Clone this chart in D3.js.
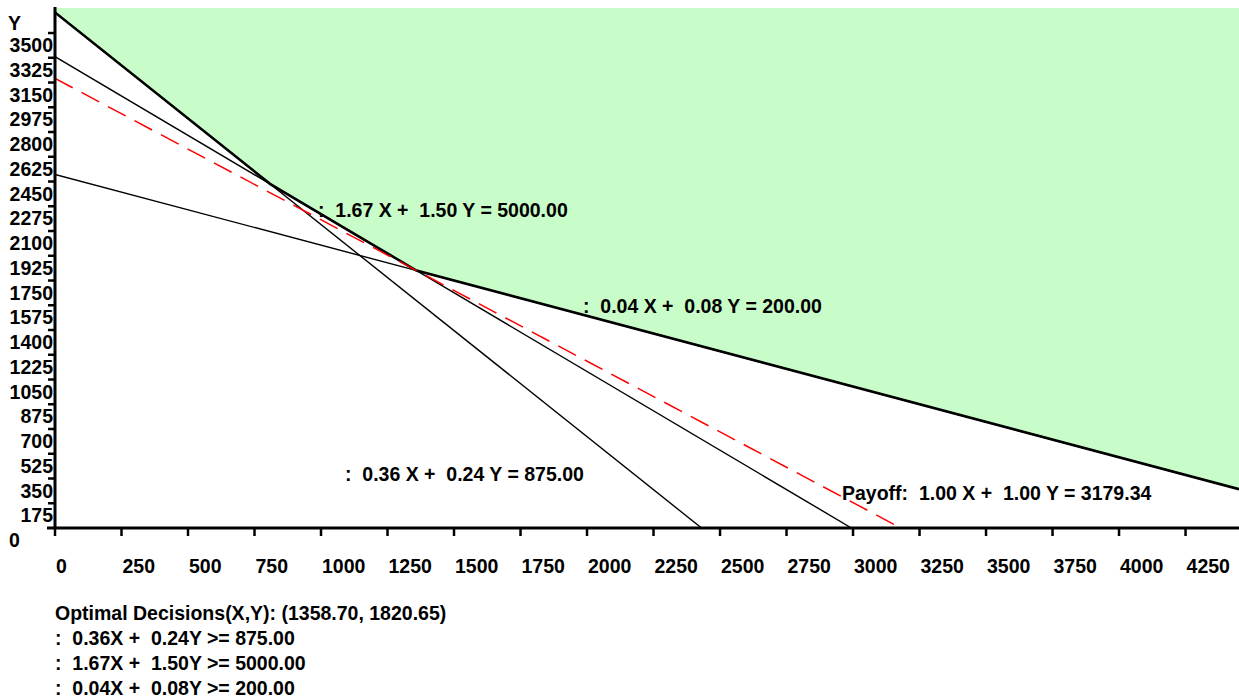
<!DOCTYPE html>
<html>
<head>
<meta charset="utf-8">
<script src="https://cdn.jsdelivr.net/npm/d3@7"></script>
<style>
  html, body { margin: 0; padding: 0; background: #fff; }
  svg text { font-family: "Liberation Sans", Arial, sans-serif; font-weight: bold; fill: #000; white-space: pre; }
</style>
</head>
<body>
<svg id="chart" width="1239" height="700"></svg>
<script>
// ---- data ----
const coefX = [0.36, 1.67, 0.04];
const coefY = [0.24, 1.50, 0.08];
const rhs = [875.00, 5000.00, 200.00];
const payoffCoef = [1.00, 1.00];
const payoffValue = 3179.34;
const optimal = [1358.70, 1820.65];
const xTicks = [0, 250, 500, 750, 1000, 1250, 1500, 1750, 2000, 2250, 2500, 2750, 3000, 3250, 3500, 3750, 4000, 4250];
const yTicks = [0, 175, 350, 525, 700, 875, 1050, 1225, 1400, 1575, 1750, 1925, 2100, 2275, 2450, 2625, 2800, 2975, 3150, 3325, 3500];

(function () {
const svg = d3.select("#chart");
const pL = 55, pR = 1239, pT = 8, pB = 528;
const x = d3.scaleLinear().domain([0, 4451]).range([pL, pR]);
const y = d3.scaleLinear().domain([0, 3677]).range([pB, pT]);
const xMax = x.domain()[1], yMax = y.domain()[1];

svg.append("defs").append("clipPath").attr("id", "plot")
  .append("rect").attr("x", pL).attr("y", pT).attr("width", pR - pL).attr("height", pB - pT);

function lineY(i, X) { return (rhs[i] - coefX[i] * X) / coefY[i]; }
function envelope(X) { return Math.max(0, ...coefX.map((_, i) => lineY(i, X))); }
const xs = [0, xMax];
for (let i = 0; i < 3; i++) for (let j = i + 1; j < 3; j++) {
  const det = coefX[i] * coefY[j] - coefX[j] * coefY[i];
  if (Math.abs(det) > 1e-9) {
    const X = (rhs[i] * coefY[j] - rhs[j] * coefY[i]) / det;
    if (X > 0 && X < xMax) xs.push(X);
  }
}
xs.sort((a, b) => a - b);
const boundary = xs.map(X => [X, envelope(X)]);
const poly = [[0, yMax]].concat(boundary).concat([[xMax, yMax]]);
const g = svg.append("g").attr("clip-path", "url(#plot)");
const ln = d3.line().x(d => x(d[0])).y(d => y(d[1]));
g.append("path").attr("d", ln(poly) + "Z").attr("fill", "#c8fcc8").attr("stroke", "none");

coefX.forEach((a, i) => {
  const xi = rhs[i] / a, yi = rhs[i] / coefY[i];
  const x2 = Math.min(xi, xMax);
  g.append("line")
    .attr("x1", x(0)).attr("y1", y(yi))
    .attr("x2", x(x2)).attr("y2", y(lineY(i, x2)))
    .attr("stroke", "#000").attr("stroke-width", 1.4);
});

g.append("path").attr("d", ln(boundary))
  .attr("fill", "none").attr("stroke", "#000").attr("stroke-width", 2.6);

g.append("line")
  .attr("x1", x(0)).attr("y1", y(payoffValue / payoffCoef[1]))
  .attr("x2", x(payoffValue / payoffCoef[0])).attr("y2", y(0))
  .attr("stroke", "#ff0000").attr("stroke-width", 1.5)
  .attr("stroke-dasharray", "20,10");

const fs = "19.5px";
const ls = "0px";
svg.append("line").attr("x1", pL).attr("x2", pL).attr("y1", pT - 1).attr("y2", pB)
  .attr("stroke", "#000").attr("stroke-width", 3);
svg.append("line").attr("x1", pL - 8).attr("x2", pR).attr("y1", pB).attr("y2", pB)
  .attr("stroke", "#000").attr("stroke-width", 3);

const xAxis = svg.append("g");
xTicks.forEach(t => {
  xAxis.append("line").attr("x1", x(t)).attr("x2", x(t)).attr("y1", pB).attr("y2", pB + 8)
    .attr("stroke", "#000").attr("stroke-width", 2.5);
  xAxis.append("text").attr("x", x(t) + 1).attr("y", pB + 45)
    .style("font-size", fs).style("letter-spacing", ls).text(String(t));
});
const yAxis = svg.append("g");
yTicks.forEach(t => {
  if (t > 0) yAxis.append("line").attr("x1", pL - 7).attr("x2", pL).attr("y1", y(t)).attr("y2", y(t))
    .attr("stroke", "#000").attr("stroke-width", 2.5);
  yAxis.append("text").attr("x", t === 0 ? 9 : 53).attr("y", y(t) + 19)
    .attr("text-anchor", t === 0 ? "start" : "end")
    .style("font-size", fs).style("letter-spacing", ls).text(String(t));
});
svg.append("text").attr("x", 8).attr("y", 30).style("font-size", fs).text("Y");

const fmt = d3.format(".2f");
const labels = [
  { text: ":  " + fmt(coefX[1]) + " X +  " + fmt(coefY[1]) + " Y = " + fmt(rhs[1]), x: 318, y: 217 },
  { text: ":  " + fmt(coefX[2]) + " X +  " + fmt(coefY[2]) + " Y = " + fmt(rhs[2]), x: 583, y: 313 },
  { text: ":  " + fmt(coefX[0]) + " X +  " + fmt(coefY[0]) + " Y = " + fmt(rhs[0]), x: 345, y: 481 },
  { text: "Payoff:  " + fmt(payoffCoef[0]) + " X +  " + fmt(payoffCoef[1]) + " Y = " + fmt(payoffValue), x: 842, y: 500 }
];
labels.forEach(l => svg.append("text").attr("x", l.x).attr("y", l.y)
  .style("font-size", fs).style("letter-spacing", ls).text(l.text));

const notes = ["Optimal Decisions(X,Y): (" + fmt(optimal[0]) + ", " + fmt(optimal[1]) + ")"]
  .concat(coefX.map((a, i) => ":  " + fmt(a) + "X +  " + fmt(coefY[i]) + "Y >= " + fmt(rhs[i])));
notes.forEach((t, i) => svg.append("text").attr("x", 55).attr("y", 620 + i * 25)
  .style("font-size", fs).style("letter-spacing", ls).text(t));
})();
</script>
</body>
</html>
